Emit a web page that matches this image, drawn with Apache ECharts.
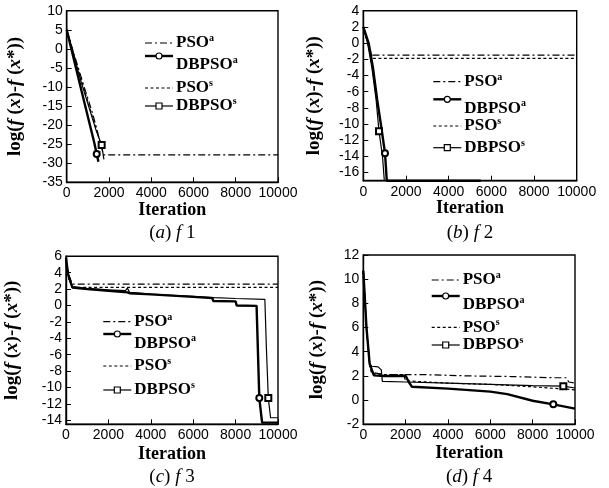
<!DOCTYPE html>
<html><head><meta charset="utf-8">
<script src="https://cdn.jsdelivr.net/npm/echarts@6/dist/echarts.min.js"></script>
<style>html,body{margin:0;padding:0;background:#fff}#c{width:609px;height:488px}</style>
</head><body><div id="c"></div>
<script>
// ---------- DATA ----------
const xTicks = [0, 2000, 4000, 6000, 8000, 10000];
const f1YTicks = [10, 5, 0, -5, -10, -15, -20, -25, -30, -35];
const f2YTicks = [4, 2, 0, -2, -4, -6, -8, -10, -12, -14, -16];
const f3YTicks = [6, 4, 2, 0, -2, -4, -6, -8, -10, -12, -14];
const f4YTicks = [12, 10, 8, 6, 4, 2, 0, -2];
const seriesNames = ['PSOa', 'DBPSOa', 'PSOs', 'DBPSOs'];

// f1
const f1PSOa = [[0,5],[300,-0.5],[800,-9.5],[1200,-16.5],[1450,-21.5],[1600,-25],[1750,-27.8],[10000,-27.8]];
const f1DBPSOa = [[0,5],[700,-11],[1300,-24.5],[1420,-27.6],[1500,-29.6]];
const f1PSOs = [[0,5],[600,-6.5],[1200,-17.5],[1500,-23],[1600,-27]];
const f1DBPSOs = [[0,5],[700,-9],[1400,-21.5],[1655,-25.2],[1760,-29]];
const f1Marks = {DBPSOa: 3, DBPSOs: 3};
// f2
const f2PSOa = [[0,2],[150,0.5],[300,-0.8],[420,-1.5],[10000,-1.5]];
const f2DBPSOa = [[0,2],[250,0],[450,-3],[650,-7],[850,-10.5],[1017,-13.6],[1100,-17],[5500,-17]];
const f2PSOs = [[0,2],[200,0],[350,-1.2],[450,-1.9],[10000,-1.9]];
const f2DBPSOs = [[0,2],[200,0],[400,-3],[600,-7],[736,-10.9],[900,-14],[985,-17]];
const f2Marks = {DBPSOa: 5, DBPSOs: 4};
// f3
const f3PSOa = [[0,5.5],[150,3.6],[300,2.6],[10000,2.6]];
const f3DBPSOa = [[0,5.8],[100,3.8],[300,2.2],[1000,2.0],[2000,1.8],[2900,1.6],[3000,1.5],[4000,1.35],[5000,1.2],[6000,1.05],[6900,0.9],[6950,0.55],[8000,0.5],[8050,0.0],[8990,-0.05],[9118,-11.3],[9250,-14.3],[10000,-14.3]];
const f3PSOs = [[0,4.8],[150,3.1],[300,2.2],[10000,2.2]];
const f3DBPSOs = [[0,5.2],[150,3.2],[300,2.3],[1000,2.1],[2000,1.9],[2800,1.8],[2900,2.1],[3000,1.6],[4000,1.4],[5000,1.25],[6000,1.1],[7000,0.95],[8000,0.85],[9380,0.75],[9450,-5],[9543,-11.3],[9650,-13.7],[10000,-13.7]];
const f3Marks = {DBPSOa: 15, DBPSOs: 15};
// f4
const f4PSOa = [[0,10.7],[150,6],[300,3],[400,2.3],[1000,2.1],[3000,2.1],[5000,2.0],[7000,1.95],[9000,1.85],[9600,1.85],[9700,1.5],[10000,1.4]];
const f4DBPSOa = [[0,10.7],[150,6],[300,3.0],[500,2.05],[1000,2.0],[2000,2.0],[2150,1.5],[2300,1.1],[4000,0.95],[6000,0.7],[6800,0.5],[8000,-0.05],[8975,-0.35],[10000,-0.7]];
const f4PSOs = [[0,10.7],[150,6],[300,2.8],[400,2.2],[1000,2.1],[1900,2.1],[2000,1.6],[4000,1.4],[6000,1.3],[8000,1.1],[10000,0.85]];
const f4DBPSOs = [[0,10.7],[150,6],[300,3.0],[400,2.8],[700,2.75],[850,2.5],[900,1.55],[2000,1.5],[4000,1.4],[6000,1.3],[8000,1.2],[9448,1.15],[10000,1.0]];
const f4Marks = {DBPSOa: 12, DBPSOs: 11};

// ---------- LAYOUT ----------
const serif = 'Liberation Serif';
const sans = 'Liberation Sans';
const panels = [
  {letter:'a', fn:'1', grid:{left:66.7, top:10.7, width:211.3, height:171.6}, yMin:-35, yMax:10, yTicks:f1YTicks,
   data:{PSOa:f1PSOa, DBPSOa:f1DBPSOa, PSOs:f1PSOs, DBPSOs:f1DBPSOs}, marks:f1Marks,
   legend:{x:145, y:43, dy:[0,13,22,45,63]}, nameGap:42, xNameGap:17, capY:233},
  {letter:'b', fn:'2', grid:{left:363.3, top:10.7, width:213.4, height:170}, yMin:-17, yMax:4, yTicks:f2YTicks,
   data:{PSOa:f2PSOa, DBPSOa:f2DBPSOa, PSOs:f2PSOs, DBPSOs:f2DBPSOs}, marks:f2Marks,
   legend:{x:433.3, y:81.7, dy:[0,17.6,26.6,44.3,66]}, nameGap:40, xNameGap:18.5, capY:233},
  {letter:'c', fn:'3', grid:{left:66, top:256.3, width:212, height:168}, yMin:-14.5, yMax:6, yTicks:f3YTicks,
   data:{PSOa:f3PSOa, DBPSOa:f3DBPSOa, PSOs:f3PSOs, DBPSOs:f3DBPSOs}, marks:f3Marks,
   legend:{x:103.3, y:321.7, dy:[0,12.3,21.6,44.3,68.3]}, nameGap:44, xNameGap:21.5, capY:476.7},
  {letter:'d', fn:'4', grid:{left:363.3, top:255, width:211.7, height:169.3}, yMin:-2, yMax:12, yTicks:f4YTicks,
   data:{PSOa:f4PSOa, DBPSOa:f4DBPSOa, PSOs:f4PSOs, DBPSOs:f4DBPSOs}, marks:f4Marks,
   legend:{x:431.7, y:280, dy:[0,16,25,47.3,65]}, nameGap:37, xNameGap:20, capY:476.7}
];

const lineStyles = {
  PSOa: {width:1.2, type:[7,3,2,3]},
  DBPSOa: {width:2.4, type:'solid'},
  PSOs: {width:1.2, type:[3,2.5]},
  DBPSOs: {width:1.2, type:'solid'}
};
const markSym = {DBPSOa:'emptyCircle', DBPSOs:'emptyRect'};
const labelSup = {PSOa:['PSO','a'], DBPSOa:['DBPSO','a'], PSOs:['PSO','s'], DBPSOs:['DBPSO','s']};

const grids = [], xAxes = [], yAxes = [], series = [], graphics = [];
const tickLabel = {color:'#000', fontFamily:sans, fontSize:14, formatter:v => String(v)};
panels.forEach((p, gi) => {
  grids.push(Object.assign({show:true, borderColor:'#000', borderWidth:1.4, containLabel:false}, p.grid));
  xAxes.push({type:'value', gridIndex:gi, min:0, max:10000,
    name:'Iteration', nameLocation:'middle', nameGap:p.xNameGap,
    nameTextStyle:{color:'#000', fontFamily:serif, fontWeight:'bold', fontSize:18},
    axisLine:{onZero:false, lineStyle:{color:'#000', width:1.4}},
    axisTick:{inside:true, length:5, customValues:xTicks, lineStyle:{color:'#000', width:1}},
    axisLabel:Object.assign({margin:4, customValues:xTicks}, tickLabel),
    splitLine:{show:false}});
  yAxes.push({type:'value', gridIndex:gi, min:p.yMin, max:p.yMax,
    name:'{n|log(}{i|f}{n| (}{i|x}{n|)-}{i|f}{n| (}{i|x}{n|*))}', nameLocation:'middle', nameGap:p.nameGap, nameRotate:90,
    nameTextStyle:{rich:{
      n:{color:'#000', fontFamily:serif, fontWeight:'bold', fontSize:19},
      i:{color:'#000', fontFamily:serif, fontWeight:'bold', fontStyle:'italic', fontSize:19}}},
    axisLine:{onZero:false, lineStyle:{color:'#000', width:1.4}},
    axisTick:{inside:true, length:5, customValues:p.yTicks, lineStyle:{color:'#000', width:1}},
    axisLabel:Object.assign({margin:4, customValues:p.yTicks}, tickLabel),
    splitLine:{show:false}});
  seriesNames.forEach(k => {
    const mi = p.marks[k];
    series.push({type:'line', name:k, xAxisIndex:gi, yAxisIndex:gi, symbol:'none', showSymbol:true,
      clip:false, animation:false, silent:true,
      lineStyle:{color:'#000', width:lineStyles[k].width, type:lineStyles[k].type},
      itemStyle:{color:'#000', borderColor:'#000', borderWidth:1.2},
      data:p.data[k].map((pt, i) => (mi !== undefined && i === mi) ? {value:pt, symbol:markSym[k], symbolSize:6} : pt)});
  });
  // legend
  const L = p.legend;
  const lineY = [L.y + L.dy[0], L.y + L.dy[1], L.y + L.dy[3], L.y + L.dy[4]];
  const textY = [L.y + L.dy[0], L.y + L.dy[2], L.y + L.dy[3], L.y + L.dy[4]];
  seriesNames.forEach((k, j) => {
    graphics.push({type:'line', silent:true, shape:{x1:L.x, y1:lineY[j], x2:L.x + 28, y2:lineY[j]},
      style:{stroke:'#000', lineWidth:lineStyles[k].width, lineDash:Array.isArray(lineStyles[k].type) ? lineStyles[k].type : null}});
    if (markSym[k] === 'emptyCircle') {
      graphics.push({type:'circle', silent:true, shape:{cx:L.x + 14, cy:lineY[j], r:3}, style:{fill:'#fff', stroke:'#000', lineWidth:1.2}});
    } else if (markSym[k] === 'emptyRect') {
      graphics.push({type:'rect', silent:true, shape:{x:L.x + 11, y:lineY[j] - 3, width:6, height:6}, style:{fill:'#fff', stroke:'#000', lineWidth:1.2}});
    }
    graphics.push({type:'text', silent:true, x:L.x + 31, y:textY[j],
      style:{text:'{b|' + labelSup[k][0] + '}{s|' + labelSup[k][1] + '}', verticalAlign:'middle', align:'left',
        rich:{b:{fill:'#000', fontFamily:serif, fontWeight:'bold', fontSize:17},
              s:{fill:'#000', fontFamily:serif, fontWeight:'bold', fontSize:10, padding:[0,0,9,0]}}}});
  });
  // caption
  graphics.push({type:'text', silent:true, x:p.grid.left + p.grid.width / 2, y:p.capY,
    style:{text:'{n|(}{i|' + p.letter + '}{n|) }{i|f}{n| ' + p.fn + '}', align:'center', verticalAlign:'middle',
      rich:{n:{fill:'#000', fontFamily:serif, fontSize:19}, i:{fill:'#000', fontFamily:serif, fontStyle:'italic', fontSize:19}}}});
});

const chart = echarts.init(document.getElementById('c'), null, {renderer:'canvas'});
chart.setOption({animation:false, backgroundColor:'#fff', grid:grids, xAxis:xAxes, yAxis:yAxes, series:series, graphic:graphics});
</script></body></html>
